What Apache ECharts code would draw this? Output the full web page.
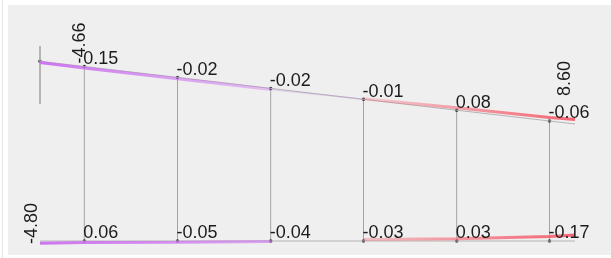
<!DOCTYPE html>
<html>
<head>
<meta charset="utf-8">
<style>
  html, body { margin: 0; padding: 0; background: #fff; }
  #chart { width: 611px; height: 258px; }
</style>
<script src="https://cdn.jsdelivr.net/npm/echarts@6/dist/echarts.min.js"></script>
</head>
<body>
<div id="chart"></div>
<script>
// truss stations (diagram units) and chord levels
const stations = [40, 84.3, 177.5, 270.7, 363.5, 456.7, 549.5, 575];
const topChord = [61.3, 66.5, 77.4, 88.4, 99.3, 110.2, 121, 124];
const botChord = [241, 241, 241, 241, 241, 241, 241, 241];
const support = [46, 104];

// member values at panel points 1..6
const topValues = ['0.15', '-0.02', '-0.02', '-0.01', '0.08', '-0.06'];
const botValues = ['0.06', '-0.05', '-0.04', '-0.03', '0.03', '-0.17'];
// end values (rotated text)
const topLeftEnd = '-4.66';
const topRightEnd = '8.60';
const botLeftEnd = '-4.80';

// result band offsets from the chord (diagram units), per station
const topBandPurple = [1.2, 1.5, 1.4, 1.0];          // stations 0..3
const topBandRed = [-0.5, -2.5, -3.5, -4.5];         // stations 4..7
const botBandPurple = [2.2, 1.6, 1.2, 0.6];          // stations 0..3
const botBandRed = [-1.5, -2.2, -4.5, -6];           // stations 4..7

const FONT = '18px "Liberation Sans", Arial, sans-serif';
const TXT = '#1c1c1c';

const chart = echarts.init(document.getElementById('chart'), null, {renderer: 'canvas'});

const pts = (ys, from, to, off) => stations.slice(from, to).map((x, i) => [x, ys[from + i] + (off ? off[i] : 0)]);

function textSeries(items) {
    return {
        type: 'custom',
        silent: true,
        z: 10,
        data: items.map(t => [t.x, t.y]),
        renderItem: (params, api) => {
            const t = items[params.dataIndex];
            const p = api.coord([api.value(0), api.value(1)]);
            return {
                type: 'text',
                x: p[0] + t.dx,
                y: p[1] + t.dy,
                rotation: t.rot || 0,
                style: {text: t.text, font: FONT, fill: TXT, align: 'left', verticalAlign: 'bottom'},
            };
        },
    };
}

const labelItems = [];
topValues.forEach((v, i) => labelItems.push({x: stations[i + 1], y: topChord[i + 1], text: v, dx: -1, dy: 1.5}));
botValues.forEach((v, i) => labelItems.push({x: stations[i + 1], y: botChord[i + 1], text: v, dx: -1, dy: 1}));
labelItems.push({x: stations[1], y: topChord[1], text: topLeftEnd, dx: 5, dy: -3, rot: Math.PI / 2});
labelItems.push({x: stations[7], y: topChord[7], text: topRightEnd, dx: -1, dy: -28, rot: Math.PI / 2});
labelItems.push({x: stations[0], y: botChord[0], text: botLeftEnd, dx: 1, dy: 3, rot: Math.PI / 2});

const purpleGrad = (a0, a1) => new echarts.graphic.LinearGradient(0, 0, 1, 0, [
    {offset: 0, color: `rgba(204, 110, 240, ${a0})`},
    {offset: 1, color: `rgba(204, 110, 240, ${a1})`},
]);
const redGrad = (a0, a1) => new echarts.graphic.LinearGradient(0, 0, 1, 0, [
    {offset: 0, color: `rgba(245, 100, 115, ${a0})`},
    {offset: 1, color: `rgba(245, 100, 115, ${a1})`},
]);

const lineCommon = {type: 'line', showSymbol: false, silent: true, animation: false};

chart.setOption({
    animation: false,
    graphic: [
        {type: 'rect', shape: {x: 8, y: 5, width: 603, height: 250}, style: {fill: '#efefef'}, z: -10},
        {type: 'line', shape: {x1: 2.5, y1: 0, x2: 2.5, y2: 258}, style: {stroke: '#e4e4e4', lineWidth: 1}, z: -10},
    ],
    grid: {left: 0, right: 0, top: 0, bottom: 0},
    xAxis: {type: 'value', min: 0, max: 611, show: false},
    yAxis: {type: 'value', min: 0, max: 258, inverse: true, show: false},
    series: [
        // verticals
        {
            type: 'custom',
            silent: true,
            data: stations.slice(1, 7).map((x, i) => [x, topChord[i + 1], botChord[i + 1]]),
            renderItem: (params, api) => {
                const a = api.coord([api.value(0), api.value(1)]);
                const b = api.coord([api.value(0), api.value(2)]);
                return {type: 'line', shape: {x1: a[0], y1: a[1], x2: b[0], y2: b[1]},
                        style: {stroke: '#a3a3a3', lineWidth: 1}};
            },
        },
        // support post at left end
        {...lineCommon, data: [[stations[0], support[0]], [stations[0], support[1]]],
         lineStyle: {color: '#a0a0a0', width: 1.5}},
        // chords
        {...lineCommon, data: pts(topChord, 0, 8), lineStyle: {color: '#b4b4b4', width: 1}},
        {...lineCommon, data: pts(botChord, 0, 8), lineStyle: {color: '#b4b4b4', width: 1}},
        // result bands
        {...lineCommon, data: pts(topChord, 0, 4, topBandPurple), lineStyle: {color: purpleGrad(0.95, 0.35), width: 3}},
        {...lineCommon, data: pts(topChord, 3, 5, [1.0, 0]), lineStyle: {color: 'rgba(200, 150, 220, 0.35)', width: 1.5}},
        {...lineCommon, data: pts(topChord, 4, 8, topBandRed), lineStyle: {color: redGrad(0.25, 1), width: 3}},
        {...lineCommon, data: pts(botChord, 0, 4, botBandPurple), lineStyle: {color: purpleGrad(0.95, 0.55), width: 3}},
        {...lineCommon, data: pts(botChord, 4, 8, botBandRed), lineStyle: {color: redGrad(0.35, 1), width: 3}},
        // panel points
        {
            type: 'scatter', silent: true, symbolSize: 3.5,
            itemStyle: {color: '#111'},
            data: pts(topChord, 0, 7).concat(pts(botChord, 1, 7)),
        },
        textSeries(labelItems),
    ],
});
</script>
</body>
</html>
